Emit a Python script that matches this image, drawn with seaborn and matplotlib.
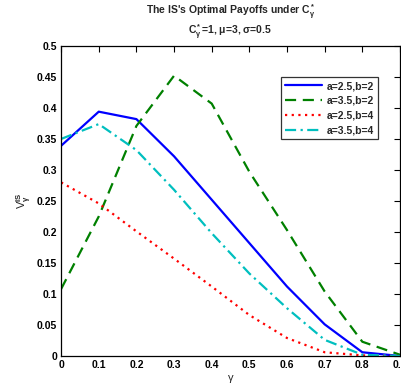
import numpy as np
import pandas as pd
import seaborn as sns
import matplotlib
matplotlib.use("Agg")
import matplotlib.pyplot as plt

gamma = [0.0, 0.1, 0.2, 0.3, 0.4, 0.5, 0.6, 0.7, 0.8, 0.9]
s1 = [0.339, 0.394, 0.382, 0.322, 0.252, 0.182, 0.112, 0.051, 0.006, 0.0]   # a=2.5,b=2
s2 = [0.108, 0.225, 0.371, 0.452, 0.407, 0.297, 0.203, 0.104, 0.023, 0.002]  # a=3.5,b=2
s3 = [0.280, 0.246, 0.201, 0.157, 0.112, 0.066, 0.029, 0.006, 0.001, 0.0]   # a=2.5,b=4
s4 = [0.350, 0.374, 0.332, 0.268, 0.198, 0.133, 0.077, 0.026, 0.002, 0.0]   # a=3.5,b=4
labels = ["a=2.5,b=2", "a=3.5,b=2", "a=2.5,b=4", "a=3.5,b=4"]
colors = ["#0000ff", "#008000", "#ff0000", "#00bfbf"]
styles = ["-", (0, (5, 3)), (0, (1, 2)), (0, (5, 2, 1, 2))]

sns.set_theme(style="white")
plt.rcParams["font.family"] = ["Liberation Sans", "DejaVu Sans"]
plt.rcParams["mathtext.fontset"] = "custom"
plt.rcParams["mathtext.rm"] = "Liberation Sans:bold"
plt.rcParams["mathtext.it"] = "Liberation Sans:bold"
plt.rcParams["mathtext.bf"] = "Liberation Sans:bold"

fig = plt.figure(figsize=(4.02, 3.90), dpi=100)
ax = fig.add_axes([0.152, 0.0872, 0.843, 0.795])

for ser, lab, c, ls in zip([s1, s2, s3, s4], labels, colors, styles):
    df = pd.DataFrame({"gamma": gamma, "v": ser})
    sns.lineplot(data=df, x="gamma", y="v", ax=ax, color=c, linestyle=ls,
                 linewidth=1.6, label=lab)

ax.set_xlim(0, 0.9)
ax.set_ylim(0, 0.5)
ax.set_xticks(np.arange(0, 0.91, 0.1))
ax.set_xticklabels(["0", "0.1", "0.2", "0.3", "0.4", "0.5", "0.6", "0.7", "0.8", "0.9"])
ax.set_yticks(np.arange(0, 0.51, 0.05))
ax.set_yticklabels(["0", "0.05", "0.1", "0.15", "0.2", "0.25", "0.3", "0.35", "0.4", "0.45", "0.5"])
ax.tick_params(direction="in", length=4, width=0.8, top=True, right=True,
               labelsize=7.5, colors="black", pad=3)
for lbl in ax.get_xticklabels() + ax.get_yticklabels():
    lbl.set_fontweight("bold")
for sp in ax.spines.values():
    sp.set_color("black")
    sp.set_linewidth(0.9)

ax.set_xlabel("γ", fontsize=8, labelpad=2)
ax.set_ylabel(r"V$^{IS}_{\gamma}$", fontsize=8, labelpad=2)

cx = 0.152 + 0.843 / 2
fig.text(cx, 0.969, "The IS's Optimal Payoffs under C$^*_\\gamma$", ha="center", va="center",
         fontsize=7.5, fontweight="bold")
fig.text(cx, 0.917, "C$^*_\\gamma$=1, $\\mu$=3, $\\sigma$=0.5", ha="center", va="center",
         fontsize=7.5, fontweight="bold")

leg = ax.legend(loc="upper right", bbox_to_anchor=(0.935, 0.9), fontsize=7.5,
                frameon=True, fancybox=False, handlelength=3.6, handletextpad=0.4,
                borderpad=0.4, labelspacing=0.45, borderaxespad=0)
leg.get_frame().set_edgecolor("black")
leg.get_frame().set_linewidth(0.9)
for t in leg.get_texts():
    t.set_fontweight("bold")

fig.savefig("out.png", dpi=100)
